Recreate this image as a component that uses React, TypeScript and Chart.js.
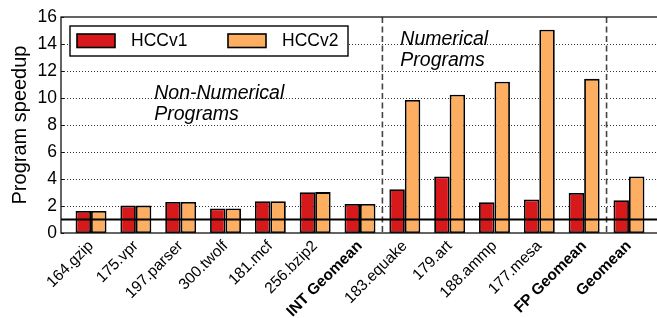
import React, { useEffect, useRef } from 'react';
import { Chart, registerables } from 'chart.js';

Chart.register(...registerables);

const CATEGORIES = [
  '164.gzip', '175.vpr', '197.parser', '300.twolf', '181.mcf', '256.bzip2', 'INT Geomean',
  '183.equake', '179.art', '188.ammp', '177.mesa', 'FP Geomean', 'Geomean',
];
const HCCV1 = [1.63, 2.03, 2.3, 1.81, 2.35, 3.02, 2.15, 3.25, 4.19, 2.28, 2.48, 2.97, 2.43];
const HCCV2 = [1.63, 2.03, 2.3, 1.81, 2.35, 3.03, 2.15, 9.86, 10.25, 11.2, 15.06, 11.42, 4.19];
const SERIES_NAMES = ['HCCv1', 'HCCv2'];
const Y_TICKS = [0, 2, 4, 6, 8, 10, 12, 14, 16];
const SEPARATORS = [6.5, 11.5];
const BASELINE = 1;
const GROUP_NOTES = [
  { lines: ['Non-Numerical', 'Programs'], x: 1.41, y: 9.93 },
  { lines: ['Numerical', 'Programs'], x: 6.9, y: 13.9 },
];

const RED = '#D7191C';
const ORANGE = '#FDAE61';
const FONT = '"Liberation Sans", Arial, Helvetica, sans-serif';

const drawPlugin = {
  id: 'customDraw',
  beforeDatasetsDraw(chart: any) {
    const { ctx, chartArea: a, scales } = chart;
    const x = scales.x;
    const y = scales.y;
    ctx.save();
    ctx.strokeStyle = '#333';
    ctx.lineWidth = 1;
    ctx.setLineDash([1, 2]);
    for (const v of Y_TICKS) {
      if (v === Y_TICKS[0] || v === Y_TICKS[Y_TICKS.length - 1]) continue;
      const py = Math.round(y.getPixelForValue(v)) + 0.5;
      ctx.beginPath();
      ctx.moveTo(a.left, py);
      ctx.lineTo(a.right, py);
      ctx.stroke();
    }
    ctx.strokeStyle = '#444';
    ctx.lineWidth = 1.6;
    ctx.setLineDash([6, 3.5]);
    for (const s of SEPARATORS) {
      const px = x.getPixelForValue(s);
      ctx.beginPath();
      ctx.moveTo(px, a.top);
      ctx.lineTo(px, a.bottom);
      ctx.stroke();
    }
    ctx.restore();
  },
  afterDatasetsDraw(chart: any) {
    const { ctx, chartArea: a, scales } = chart;
    const x = scales.x;
    const y = scales.y;
    ctx.save();
    ctx.setLineDash([]);
    ctx.strokeStyle = '#000';
    ctx.lineWidth = 1.8;
    const by = y.getPixelForValue(BASELINE);
    ctx.beginPath();
    ctx.moveTo(a.left, by);
    ctx.lineTo(a.right, by);
    ctx.stroke();
    ctx.lineWidth = 1.3;
    ctx.strokeStyle = '#111';
    ctx.strokeRect(a.left, a.top, a.right - a.left, a.bottom - a.top);
    ctx.lineWidth = 1;
    for (const v of Y_TICKS) {
      const py = Math.round(y.getPixelForValue(v)) + 0.5;
      ctx.beginPath();
      ctx.moveTo(a.left, py);
      ctx.lineTo(a.left + 3, py);
      ctx.stroke();
    }
    const lx = a.left + 9;
    const ly = a.top + 9;
    ctx.fillStyle = '#fff';
    ctx.fillRect(lx, ly, 278, 30);
    ctx.lineWidth = 1.4;
    ctx.strokeStyle = '#000';
    ctx.strokeRect(lx, ly, 278, 30);
    const colors = [RED, ORANGE];
    const offs = [7, 158];
    ctx.font = `17.5px ${FONT}`;
    ctx.textBaseline = 'middle';
    ctx.textAlign = 'left';
    SERIES_NAMES.forEach((name, i) => {
      const sx = lx + offs[i];
      ctx.fillStyle = colors[i];
      ctx.fillRect(sx, ly + 8, 38, 13.5);
      ctx.lineWidth = 1.6;
      ctx.strokeStyle = '#000';
      ctx.strokeRect(sx, ly + 8, 38, 13.5);
      ctx.fillStyle = '#000';
      ctx.fillText(name, sx + 54, ly + 15.5);
    });
    ctx.font = `italic 19.5px ${FONT}`;
    ctx.textBaseline = 'alphabetic';
    ctx.fillStyle = '#000';
    for (const n of GROUP_NOTES) {
      const px = x.getPixelForValue(n.x);
      const py = y.getPixelForValue(n.y);
      n.lines.forEach((t, i) => ctx.fillText(t, px, py + i * 21));
    }
    ctx.restore();
  },
};

export default function App() {
  const ref = useRef<HTMLCanvasElement | null>(null);
  useEffect(() => {
    if (!ref.current) return;
    const chart = new Chart(ref.current, {
      type: 'bar',
      data: {
        datasets: [
          {
            label: SERIES_NAMES[0],
            data: HCCV1.map((v, i) => ({ x: i, y: v })),
            backgroundColor: RED,
            borderColor: '#000',
            borderWidth: 1.8,
            borderSkipped: false,
            barPercentage: 1,
            categoryPercentage: 0.69,
          },
          {
            label: SERIES_NAMES[1],
            data: HCCV2.map((v, i) => ({ x: i, y: v })),
            backgroundColor: ORANGE,
            borderColor: '#000',
            borderWidth: 1.8,
            borderSkipped: false,
            barPercentage: 1,
            categoryPercentage: 0.69,
          },
        ],
      },
      options: {
        animation: false,
        responsive: false,
        devicePixelRatio: 1,
        layout: { padding: { top: 17, right: 1, left: 0, bottom: 0 } },
        plugins: { legend: { display: false }, tooltip: { enabled: false } },
        scales: {
          x: {
            type: 'linear',
            offset: false,
            min: -0.67,
            max: 12.67,
            grid: { display: false, drawTicks: false, offset: false },
            border: { display: false },
            afterFit: (s: any) => { s.height = 85; s.paddingLeft = 0; s.paddingRight = 0; },
            ticks: {
              stepSize: 1,
              includeBounds: false,
              autoSkip: false,
              maxRotation: 45,
              minRotation: 45,
              padding: 4,
              color: '#000',
              font: (c: any) => {
                const v = c.tick ? c.tick.value : 0;
                const lab = CATEGORIES[Math.round(v)] || '';
                return { size: 15.5, family: FONT, weight: lab.indexOf('Geomean') >= 0 ? 'bold' : 'normal' };
              },
              callback: (v: any) => {
                const n = Number(v);
                return Number.isInteger(n) && CATEGORIES[n] !== undefined ? CATEGORIES[n] : '';
              },
            },
          },
          y: {
            min: 0,
            max: 16,
            grid: { display: false, drawTicks: false },
            border: { display: false },
            afterFit: (s: any) => { s.width = 61; },
            ticks: {
              stepSize: 2,
              padding: 4,
              color: '#000',
              font: { size: 17.5, family: FONT },
              callback: (v: any) => (Y_TICKS.includes(Number(v)) ? String(v) : ''),
            },
            title: {
              display: true,
              text: 'Program speedup',
              color: '#000',
              font: { size: 20, family: FONT },
              padding: { top: 8, bottom: 0 },
            },
          },
        },
      },
      plugins: [drawPlugin],
    } as any);
    return () => chart.destroy();
  }, []);
  return (
    <div style={{ position: 'fixed', left: 0, top: 0, width: 657, height: 318, overflow: 'hidden', background: '#fff' }}>
      <canvas ref={ref} width={660} height={318} style={{ width: 660, height: 318, display: 'block' }} />
    </div>
  );
}
